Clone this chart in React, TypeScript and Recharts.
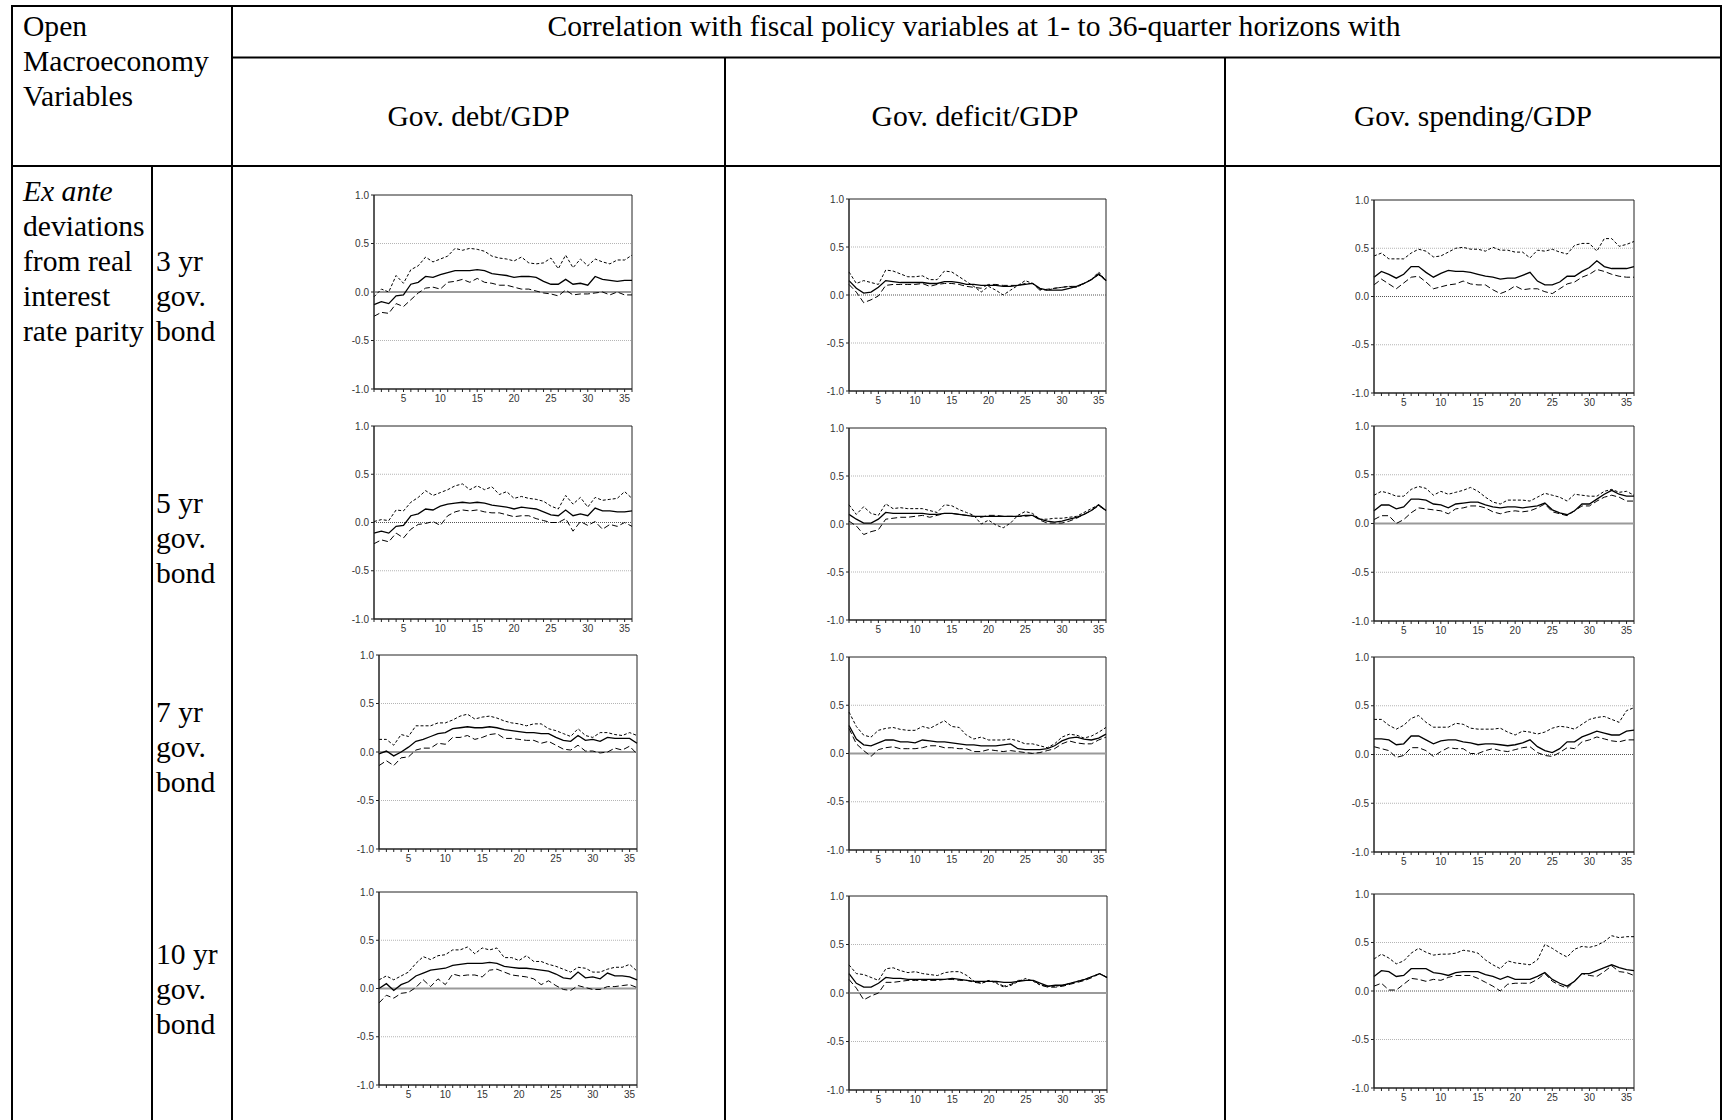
import React from 'react';
import { LineChart, Line, XAxis, YAxis, ReferenceLine, ReferenceArea } from 'recharts';

// Horizons (quarters)
const HORIZONS = [1, 2, 3, 4, 5, 6, 7, 8, 9, 10, 11, 12, 13, 14, 15, 16, 17, 18, 19, 20, 21, 22, 23, 24, 25, 26, 27, 28, 29, 30, 31, 32, 33, 34, 35, 36];
const Y_TICKS = [-1, -0.5, 0, 0.5, 1];
const X_LABELS = [5, 10, 15, 20, 25, 30, 35];

const FISCAL_HEADERS = ['Gov. debt/GDP', 'Gov. deficit/GDP', 'Gov. spending/GDP'];
const BOND_LABELS = ['3 yr', '5 yr', '7 yr', '10 yr'];

// 3 yr bond
const debt3Up = [-0.05, 0.03, 0.0, 0.17, 0.09, 0.23, 0.27, 0.36, 0.31, 0.34, 0.37, 0.45, 0.43, 0.45, 0.44, 0.42, 0.37, 0.35, 0.34, 0.32, 0.36, 0.3, 0.29, 0.3, 0.35, 0.24, 0.38, 0.25, 0.34, 0.27, 0.34, 0.31, 0.29, 0.33, 0.33, 0.38];
const debt3Mid = [-0.13, -0.1, -0.12, -0.04, -0.03, 0.08, 0.1, 0.16, 0.15, 0.18, 0.2, 0.22, 0.22, 0.22, 0.23, 0.22, 0.19, 0.18, 0.17, 0.15, 0.16, 0.16, 0.15, 0.11, 0.08, 0.08, 0.13, 0.08, 0.09, 0.07, 0.16, 0.13, 0.12, 0.11, 0.12, 0.12];
const debt3Low = [-0.25, -0.21, -0.22, -0.12, -0.15, -0.08, -0.01, 0.04, 0.05, 0.03, 0.1, 0.11, 0.13, 0.1, 0.14, 0.1, 0.09, 0.07, 0.07, 0.05, 0.03, 0.03, 0.01, -0.01, -0.02, -0.04, 0.02, -0.03, -0.02, -0.02, -0.01, 0.0, -0.03, 0.0, -0.03, -0.03];

const deficit3Up = [0.24, 0.12, 0.15, 0.13, 0.11, 0.26, 0.25, 0.22, 0.19, 0.19, 0.2, 0.16, 0.16, 0.25, 0.24, 0.19, 0.14, 0.09, 0.03, 0.09, 0.05, 0.0, 0.05, 0.1, 0.15, 0.12, 0.06, 0.05, 0.07, 0.08, 0.09, 0.08, 0.12, 0.16, 0.24, 0.15];
const deficit3Mid = [0.15, 0.07, 0.02, 0.03, 0.08, 0.15, 0.14, 0.13, 0.13, 0.13, 0.13, 0.12, 0.12, 0.14, 0.14, 0.13, 0.11, 0.11, 0.1, 0.1, 0.1, 0.09, 0.09, 0.1, 0.11, 0.12, 0.07, 0.05, 0.05, 0.05, 0.07, 0.09, 0.12, 0.16, 0.22, 0.15];
const deficit3Low = [0.11, 0.03, -0.08, -0.05, -0.01, 0.1, 0.11, 0.11, 0.11, 0.11, 0.12, 0.09, 0.11, 0.12, 0.12, 0.11, 0.09, 0.08, 0.07, 0.11, 0.11, 0.1, 0.1, 0.1, 0.12, 0.12, 0.05, 0.06, 0.07, 0.08, 0.09, 0.09, 0.12, 0.16, 0.21, 0.15];

const spend3Up = [0.42, 0.45, 0.39, 0.39, 0.39, 0.45, 0.49, 0.47, 0.41, 0.42, 0.46, 0.5, 0.51, 0.49, 0.49, 0.47, 0.51, 0.48, 0.48, 0.46, 0.46, 0.4, 0.48, 0.47, 0.49, 0.46, 0.44, 0.53, 0.55, 0.55, 0.47, 0.6, 0.6, 0.52, 0.54, 0.57];
const spend3Mid = [0.2, 0.26, 0.23, 0.19, 0.23, 0.31, 0.31, 0.25, 0.2, 0.24, 0.27, 0.26, 0.26, 0.25, 0.23, 0.21, 0.2, 0.18, 0.19, 0.19, 0.22, 0.25, 0.16, 0.12, 0.12, 0.15, 0.21, 0.21, 0.26, 0.3, 0.37, 0.31, 0.29, 0.29, 0.29, 0.31];
const spend3Low = [0.12, 0.18, 0.13, 0.08, 0.14, 0.2, 0.21, 0.15, 0.08, 0.1, 0.12, 0.13, 0.16, 0.13, 0.12, 0.12, 0.07, 0.03, 0.06, 0.11, 0.07, 0.08, 0.08, 0.05, 0.03, 0.08, 0.13, 0.15, 0.2, 0.23, 0.28, 0.26, 0.23, 0.21, 0.2, 0.2];

// 5 yr bond
const debt5Up = [0.01, 0.03, 0.02, 0.13, 0.12, 0.21, 0.26, 0.33, 0.28, 0.31, 0.34, 0.38, 0.4, 0.34, 0.38, 0.34, 0.37, 0.29, 0.32, 0.25, 0.27, 0.25, 0.24, 0.22, 0.17, 0.14, 0.28, 0.19, 0.26, 0.16, 0.26, 0.23, 0.24, 0.25, 0.32, 0.25];
const debt5Mid = [-0.11, -0.09, -0.11, -0.04, -0.03, 0.07, 0.09, 0.14, 0.13, 0.17, 0.19, 0.2, 0.21, 0.2, 0.21, 0.2, 0.18, 0.17, 0.16, 0.14, 0.16, 0.15, 0.14, 0.11, 0.08, 0.07, 0.13, 0.07, 0.09, 0.07, 0.15, 0.12, 0.12, 0.11, 0.11, 0.12];
const debt5Low = [-0.22, -0.18, -0.2, -0.11, -0.16, -0.07, -0.02, -0.01, 0.01, -0.03, 0.07, 0.11, 0.13, 0.12, 0.13, 0.11, 0.1, 0.1, 0.08, 0.06, 0.07, 0.07, 0.04, 0.02, 0.0, 0.0, 0.04, -0.09, 0.01, -0.03, 0.01, -0.07, -0.02, -0.04, 0.0, -0.04];

const deficit5Up = [0.2, 0.1, 0.18, 0.11, 0.09, 0.21, 0.16, 0.17, 0.16, 0.16, 0.16, 0.14, 0.12, 0.2, 0.19, 0.15, 0.12, 0.09, 0.0, 0.04, -0.01, -0.04, 0.01, 0.09, 0.13, 0.11, 0.05, 0.05, 0.06, 0.06, 0.07, 0.08, 0.12, 0.16, 0.2, 0.14];
const deficit5Mid = [0.1, 0.05, 0.01, 0.01, 0.05, 0.12, 0.11, 0.11, 0.11, 0.11, 0.11, 0.1, 0.1, 0.11, 0.11, 0.1, 0.09, 0.08, 0.08, 0.08, 0.08, 0.08, 0.08, 0.08, 0.09, 0.09, 0.05, 0.03, 0.02, 0.03, 0.05, 0.07, 0.1, 0.14, 0.2, 0.14];
const deficit5Low = [0.03, -0.02, -0.11, -0.08, -0.06, 0.05, 0.06, 0.07, 0.07, 0.08, 0.09, 0.07, 0.09, 0.11, 0.11, 0.1, 0.09, 0.08, 0.07, 0.09, 0.09, 0.08, 0.08, 0.08, 0.08, 0.09, 0.04, 0.01, 0.01, 0.01, 0.03, 0.06, 0.1, 0.14, 0.19, 0.14];

const spend5Up = [0.29, 0.33, 0.31, 0.28, 0.28, 0.35, 0.38, 0.36, 0.29, 0.33, 0.3, 0.32, 0.34, 0.37, 0.33, 0.27, 0.22, 0.2, 0.24, 0.24, 0.24, 0.23, 0.27, 0.31, 0.29, 0.27, 0.23, 0.3, 0.29, 0.28, 0.28, 0.33, 0.35, 0.32, 0.33, 0.29];
const spend5Mid = [0.13, 0.19, 0.19, 0.15, 0.17, 0.25, 0.25, 0.24, 0.2, 0.19, 0.16, 0.2, 0.21, 0.22, 0.22, 0.19, 0.17, 0.16, 0.17, 0.17, 0.16, 0.17, 0.18, 0.21, 0.14, 0.11, 0.09, 0.13, 0.2, 0.2, 0.25, 0.3, 0.34, 0.3, 0.28, 0.28];
const spend5Low = [0.04, 0.08, 0.08, 0.0, 0.04, 0.11, 0.16, 0.15, 0.14, 0.13, 0.1, 0.15, 0.16, 0.18, 0.18, 0.16, 0.12, 0.1, 0.12, 0.13, 0.12, 0.13, 0.16, 0.2, 0.12, 0.1, 0.08, 0.13, 0.18, 0.18, 0.23, 0.27, 0.29, 0.27, 0.23, 0.23];

// 7 yr bond
const debt7Up = [0.13, 0.13, 0.07, 0.18, 0.16, 0.27, 0.27, 0.27, 0.3, 0.3, 0.33, 0.37, 0.39, 0.34, 0.36, 0.37, 0.35, 0.32, 0.3, 0.29, 0.27, 0.29, 0.29, 0.24, 0.22, 0.19, 0.16, 0.24, 0.17, 0.15, 0.2, 0.2, 0.18, 0.17, 0.2, 0.17];
const debt7Mid = [-0.02, 0.01, -0.04, 0.0, 0.05, 0.11, 0.13, 0.16, 0.19, 0.2, 0.24, 0.25, 0.26, 0.25, 0.25, 0.26, 0.25, 0.23, 0.22, 0.21, 0.2, 0.2, 0.19, 0.19, 0.15, 0.12, 0.11, 0.17, 0.12, 0.13, 0.11, 0.15, 0.14, 0.14, 0.14, 0.09];
const debt7Low = [-0.14, -0.09, -0.14, -0.06, -0.05, 0.02, 0.04, 0.04, 0.09, 0.08, 0.15, 0.15, 0.17, 0.13, 0.15, 0.18, 0.19, 0.14, 0.14, 0.13, 0.12, 0.12, 0.09, 0.11, 0.07, 0.03, 0.02, 0.07, 0.01, 0.01, -0.01, 0.0, 0.04, 0.02, 0.06, -0.02];

const deficit7Up = [0.43, 0.28, 0.19, 0.17, 0.24, 0.26, 0.27, 0.25, 0.24, 0.24, 0.28, 0.26, 0.3, 0.34, 0.28, 0.27, 0.19, 0.15, 0.17, 0.14, 0.14, 0.14, 0.15, 0.13, 0.1, 0.1, 0.08, 0.06, 0.1, 0.17, 0.2, 0.19, 0.16, 0.18, 0.22, 0.27];
const deficit7Mid = [0.29, 0.15, 0.09, 0.08, 0.11, 0.14, 0.14, 0.12, 0.12, 0.11, 0.14, 0.13, 0.12, 0.12, 0.11, 0.1, 0.09, 0.09, 0.08, 0.08, 0.08, 0.09, 0.1, 0.05, 0.04, 0.04, 0.04, 0.05, 0.08, 0.13, 0.16, 0.17, 0.15, 0.14, 0.16, 0.2];
const deficit7Low = [0.26, 0.1, 0.03, -0.03, 0.04, 0.06, 0.07, 0.05, 0.05, 0.05, 0.06, 0.08, 0.08, 0.06, 0.06, 0.05, 0.05, 0.02, 0.02, 0.04, 0.03, 0.02, 0.03, 0.02, 0.01, 0.0, 0.01, 0.03, 0.05, 0.1, 0.13, 0.11, 0.1, 0.1, 0.14, 0.17];

const spend7Up = [0.36, 0.36, 0.3, 0.26, 0.3, 0.37, 0.4, 0.33, 0.28, 0.28, 0.28, 0.32, 0.31, 0.27, 0.26, 0.26, 0.26, 0.27, 0.23, 0.2, 0.24, 0.23, 0.21, 0.23, 0.27, 0.29, 0.28, 0.26, 0.31, 0.36, 0.38, 0.39, 0.36, 0.33, 0.45, 0.48];
const spend7Mid = [0.16, 0.16, 0.15, 0.1, 0.11, 0.19, 0.19, 0.15, 0.11, 0.14, 0.15, 0.15, 0.13, 0.12, 0.1, 0.11, 0.11, 0.1, 0.09, 0.1, 0.12, 0.15, 0.08, 0.04, 0.02, 0.06, 0.13, 0.13, 0.18, 0.21, 0.24, 0.22, 0.2, 0.2, 0.24, 0.25];
const spend7Low = [0.08, 0.06, 0.04, -0.03, -0.01, 0.07, 0.07, 0.04, -0.02, 0.03, 0.07, 0.06, 0.06, 0.01, 0.01, 0.04, 0.06, 0.04, 0.03, 0.05, 0.07, 0.08, 0.02, -0.01, -0.02, 0.02, 0.07, 0.06, 0.13, 0.15, 0.18, 0.16, 0.14, 0.13, 0.15, 0.15];

// 10 yr bond
const debt10Up = [0.09, 0.13, 0.09, 0.13, 0.17, 0.26, 0.33, 0.3, 0.34, 0.35, 0.4, 0.4, 0.43, 0.36, 0.42, 0.4, 0.42, 0.32, 0.32, 0.29, 0.34, 0.28, 0.28, 0.25, 0.23, 0.2, 0.17, 0.22, 0.21, 0.17, 0.17, 0.2, 0.22, 0.22, 0.25, 0.18];
const debt10Mid = [0.0, 0.05, -0.02, 0.04, 0.07, 0.13, 0.16, 0.19, 0.2, 0.21, 0.24, 0.25, 0.26, 0.26, 0.26, 0.27, 0.26, 0.23, 0.22, 0.21, 0.21, 0.2, 0.19, 0.18, 0.15, 0.11, 0.1, 0.17, 0.11, 0.12, 0.1, 0.16, 0.13, 0.13, 0.12, 0.09];
const debt10Low = [-0.15, -0.07, -0.1, -0.05, -0.04, 0.01, 0.09, 0.02, 0.1, 0.04, 0.15, 0.13, 0.14, 0.14, 0.12, 0.19, 0.2, 0.17, 0.14, 0.13, 0.12, 0.1, 0.04, 0.08, 0.03, -0.01, -0.02, 0.03, 0.01, -0.01, -0.01, 0.02, 0.02, 0.03, 0.04, 0.01];

const deficit10Up = [0.29, 0.2, 0.19, 0.16, 0.13, 0.25, 0.26, 0.23, 0.21, 0.22, 0.2, 0.19, 0.18, 0.21, 0.22, 0.22, 0.18, 0.12, 0.1, 0.13, 0.1, 0.06, 0.08, 0.12, 0.15, 0.12, 0.08, 0.07, 0.07, 0.08, 0.1, 0.12, 0.14, 0.17, 0.2, 0.16];
const deficit10Mid = [0.2, 0.1, 0.06, 0.06, 0.1, 0.16, 0.15, 0.15, 0.14, 0.14, 0.14, 0.14, 0.14, 0.14, 0.15, 0.14, 0.13, 0.12, 0.12, 0.12, 0.12, 0.11, 0.11, 0.12, 0.13, 0.13, 0.1, 0.07, 0.08, 0.08, 0.1, 0.12, 0.14, 0.17, 0.2, 0.16];
const deficit10Low = [0.14, 0.05, -0.07, -0.03, 0.0, 0.11, 0.11, 0.12, 0.13, 0.13, 0.13, 0.13, 0.13, 0.14, 0.14, 0.13, 0.13, 0.11, 0.1, 0.13, 0.11, 0.07, 0.09, 0.13, 0.13, 0.13, 0.08, 0.06, 0.06, 0.07, 0.09, 0.11, 0.13, 0.16, 0.2, 0.16];

const spend10Up = [0.33, 0.38, 0.34, 0.28, 0.31, 0.39, 0.44, 0.4, 0.37, 0.38, 0.38, 0.39, 0.42, 0.41, 0.39, 0.32, 0.27, 0.23, 0.31, 0.29, 0.28, 0.27, 0.32, 0.48, 0.44, 0.39, 0.35, 0.43, 0.46, 0.45, 0.47, 0.51, 0.57, 0.55, 0.56, 0.56];
const spend10Mid = [0.15, 0.21, 0.2, 0.15, 0.16, 0.23, 0.23, 0.23, 0.19, 0.18, 0.16, 0.19, 0.2, 0.2, 0.2, 0.17, 0.15, 0.12, 0.15, 0.12, 0.12, 0.12, 0.15, 0.19, 0.12, 0.08, 0.05, 0.1, 0.18, 0.18, 0.21, 0.24, 0.27, 0.24, 0.22, 0.21];
const spend10Low = [0.05, 0.08, 0.01, 0.01, 0.07, 0.13, 0.12, 0.1, 0.12, 0.11, 0.14, 0.16, 0.16, 0.16, 0.13, 0.09, 0.05, 0.0, 0.07, 0.08, 0.08, 0.08, 0.12, 0.18, 0.1, 0.06, 0.03, 0.1, 0.18, 0.16, 0.15, 0.2, 0.26, 0.2, 0.19, 0.16];

const SERIF = "'Liberation Serif', 'Times New Roman', serif";
const SANS = "'Liberation Sans', Arial, sans-serif";

type PanelSpec = {
  x: number; y: number; w: number; h: number;
  up: number[]; mid: number[]; low: number[];
  zero: 'solid' | 'dotted';
};

// Plot areas of the twelve small charts (page coordinates)
const PANELS: PanelSpec[] = [
  { x: 374, y: 195, w: 258, h: 194, up: debt3Up, mid: debt3Mid, low: debt3Low, zero: 'solid' },
  { x: 849, y: 199, w: 257, h: 192, up: deficit3Up, mid: deficit3Mid, low: deficit3Low, zero: 'dotted' },
  { x: 1374, y: 200, w: 260, h: 193, up: spend3Up, mid: spend3Mid, low: spend3Low, zero: 'dotted' },
  { x: 374, y: 426, w: 258, h: 193, up: debt5Up, mid: debt5Mid, low: debt5Low, zero: 'dotted' },
  { x: 849, y: 428, w: 257, h: 192, up: deficit5Up, mid: deficit5Mid, low: deficit5Low, zero: 'solid' },
  { x: 1374, y: 426, w: 260, h: 195, up: spend5Up, mid: spend5Mid, low: spend5Low, zero: 'solid' },
  { x: 379, y: 655, w: 258, h: 194, up: debt7Up, mid: debt7Mid, low: debt7Low, zero: 'solid' },
  { x: 849, y: 657, w: 257, h: 193, up: deficit7Up, mid: deficit7Mid, low: deficit7Low, zero: 'solid' },
  { x: 1374, y: 657, w: 260, h: 195, up: spend7Up, mid: spend7Mid, low: spend7Low, zero: 'dotted' },
  { x: 379, y: 892, w: 258, h: 193, up: debt10Up, mid: debt10Mid, low: debt10Low, zero: 'solid' },
  { x: 849, y: 896, w: 258, h: 194, up: deficit10Up, mid: deficit10Mid, low: deficit10Low, zero: 'solid' },
  { x: 1374, y: 894, w: 260, h: 194, up: spend10Up, mid: spend10Mid, low: spend10Low, zero: 'dotted' },
];

const AXIS_W = 40;
const TOP_PAD = 10;
const RIGHT_PAD = 10;
const X_AXIS_H = 24;

function Panel({ spec }: { spec: PanelSpec }) {
  const data = HORIZONS.map((h, i) => ({ h, up: spec.up[i], mid: spec.mid[i], low: spec.low[i] }));
  const tickStyle = { fontSize: 10, fill: '#333', fontFamily: SANS };
  const zeroProps =
    spec.zero === 'solid'
      ? { stroke: '#9a9a9a', strokeWidth: 2 }
      : { stroke: '#555', strokeWidth: 1, strokeDasharray: '1 1' };
  return (
    <div style={{ position: 'absolute', left: spec.x - AXIS_W, top: spec.y - TOP_PAD }}>
      <LineChart
        width={spec.w + AXIS_W + RIGHT_PAD}
        height={spec.h + TOP_PAD + X_AXIS_H}
        data={data}
        margin={{ top: TOP_PAD, right: RIGHT_PAD, bottom: 0, left: 0 }}
      >
        <XAxis
          dataKey="h"
          type="number"
          domain={[1, 36]}
          ticks={HORIZONS}
          interval={0}
          tickFormatter={(v: number) => (X_LABELS.includes(v) ? String(v) : '')}
          height={X_AXIS_H}
          tickSize={3}
          tickMargin={3}
          axisLine={{ stroke: '#222' }}
          tickLine={{ stroke: '#222' }}
          tick={tickStyle}
        />
        <YAxis
          type="number"
          domain={[-1, 1]}
          ticks={Y_TICKS}
          interval={0}
          tickFormatter={(v: number) => v.toFixed(1)}
          width={AXIS_W}
          tickSize={3}
          tickMargin={2}
          axisLine={{ stroke: '#222' }}
          tickLine={{ stroke: '#222' }}
          tick={tickStyle}
        />
        <ReferenceLine y={0.5} stroke="#b5b5b5" strokeDasharray="1 1" />
        <ReferenceLine y={-0.5} stroke="#b5b5b5" strokeDasharray="1 1" />
        <ReferenceLine y={0} {...zeroProps} />
        <ReferenceArea x1={1} x2={36} y1={-1} y2={1} fill="#fff" fillOpacity={0} stroke="#222" strokeWidth={1} />
        <Line dataKey="up" stroke="#000" strokeWidth={1} strokeDasharray="3 2" dot={false} isAnimationActive={false} />
        <Line dataKey="low" stroke="#000" strokeWidth={1} strokeDasharray="6 3" dot={false} isAnimationActive={false} />
        <Line dataKey="mid" stroke="#000" strokeWidth={1.3} dot={false} isAnimationActive={false} />
      </LineChart>
    </div>
  );
}

const LEFT_LINES = [
  { text: 'Open', y: 36 },
  { text: 'Macroeconomy', y: 71 },
  { text: 'Variables', y: 106 },
];
const ROW_LINES = ['deviations', 'from real', 'interest', 'rate parity'];
const BOND_BASELINES = [271, 513, 722, 964];

export default function App() {
  const lineColor = '#000';
  return (
    <div style={{ position: 'absolute', left: 0, top: 0, width: 1723, height: 1120, background: '#fff', overflow: 'hidden' }}>
      <svg width={1723} height={1120} style={{ position: 'absolute', left: 0, top: 0 }}>
        {/* table frame */}
        <line x1={12} y1={6} x2={1721} y2={6} stroke={lineColor} strokeWidth={2} />
        <line x1={12} y1={5} x2={12} y2={1120} stroke={lineColor} strokeWidth={2} />
        <line x1={1721} y1={5} x2={1721} y2={1120} stroke={lineColor} strokeWidth={2} />
        <line x1={232} y1={5} x2={232} y2={1120} stroke={lineColor} strokeWidth={2} />
        <line x1={232} y1={57.5} x2={1721} y2={57.5} stroke={lineColor} strokeWidth={2} />
        <line x1={12} y1={166} x2={1721} y2={166} stroke={lineColor} strokeWidth={2} />
        <line x1={725} y1={57.5} x2={725} y2={1120} stroke={lineColor} strokeWidth={2} />
        <line x1={1225} y1={57.5} x2={1225} y2={1120} stroke={lineColor} strokeWidth={2} />
        <line x1={152} y1={166} x2={152} y2={1120} stroke={lineColor} strokeWidth={2} />

        <g fontFamily={SERIF} fontSize={29.6} fill="#000">
          <text x={974} y={36} textAnchor="middle">
            Correlation with fiscal policy variables at 1- to 36-quarter horizons with
          </text>
          {FISCAL_HEADERS.map((t, i) => (
            <text key={t} x={[478.5, 975, 1473][i]} y={126} textAnchor="middle">
              {t}
            </text>
          ))}
          {LEFT_LINES.map((l) => (
            <text key={l.text} x={23} y={l.y}>
              {l.text}
            </text>
          ))}
          <text x={23} y={201} fontStyle="italic">
            Ex ante
          </text>
          {ROW_LINES.map((t, i) => (
            <text key={t} x={23} y={236 + i * 35}>
              {t}
            </text>
          ))}
          {BOND_LABELS.map((b, i) => (
            <g key={b}>
              <text x={156} y={BOND_BASELINES[i]}>{b}</text>
              <text x={156} y={BOND_BASELINES[i] + 35}>gov.</text>
              <text x={156} y={BOND_BASELINES[i] + 70}>bond</text>
            </g>
          ))}
        </g>
      </svg>
      {PANELS.map((p, i) => (
        <Panel key={i} spec={p} />
      ))}
    </div>
  );
}
